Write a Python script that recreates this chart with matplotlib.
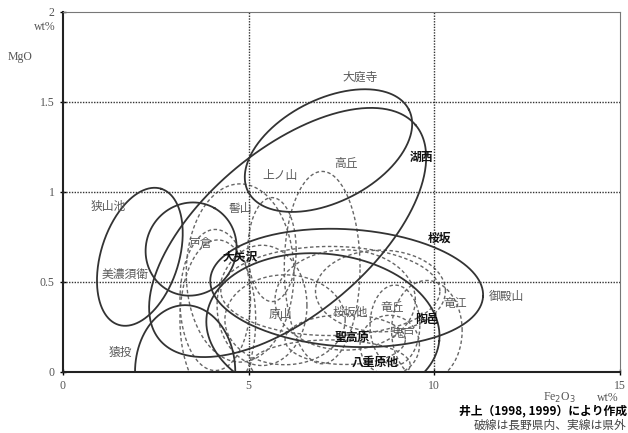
import numpy as np
import matplotlib.pyplot as plt

plt.rcParams['font.family'] = ['Liberation Serif', 'Noto Sans CJK JP']

# 実線 (県外) : 中心, 長径/短径 (x単位), 傾き(度)
solid_cx = [7.15, 6.05, 2.07, 3.45, 3.29, 7.64, 7.00]
solid_cy = [1.23, 0.775, 0.64, 0.683, 0.0, 0.467, 0.24]
solid_a = [2.43, 4.50, 1.92, 1.27, 1.35, 3.68, 3.15]
solid_b = [1.38, 2.22, 1.05, 1.21, 1.80, 1.58, 2.02]
solid_ang = [27, 40, 72.6, 60, 0, -3.6, -6]

# 破線 (長野県内)
dash_cx = [4.77, 6.98, 5.63, 4.17, 5.36, 5.98, 7.60, 8.94, 7.60, 8.80, 7.20, 8.55, 9.80, 7.20, 4.10]
dash_cy = [0.55, 0.58, 0.68, 0.29, 0.37, 0.29, 0.40, 0.26, 0.18, 0.15, 0.04, 0.45, 0.23, 0.45, 0.40]
dash_a = [1.45, 1.02, 0.65, 1.02, 1.21, 1.62, 1.89, 0.67, 1.62, 0.80, 2.15, 1.75, 0.95, 2.95, 0.95]
dash_b = [2.40, 2.59, 1.40, 2.15, 1.62, 1.21, 1.35, 1.08, 0.67, 0.80, 0.67, 1.10, 1.35, 1.20, 1.90]
dash_ang = [0, 0, 0, 0, 0, 0, 0, 0, 0, 0, 0, 0, 0, 0, 0]

labels = ['大庭寺', '高丘', '上ノ山', '湖西', '狭山池', '髻山', '戸倉', '大矢沢', '美濃須衛',
          '桜坂', '竜江', '御殿山', '原山', '桜坂他', '竜丘', '陶邑', '聖高原', '鬼戸', '八重原他', '猿投']
label_x = [8.0, 7.62, 5.84, 9.64, 1.21, 4.77, 3.69, 4.77, 1.67,
           10.13, 10.56, 11.93, 5.84, 7.73, 8.86, 9.80, 7.78, 9.16, 8.40, 1.54]
label_y = [1.64, 1.16, 1.09, 1.19, 0.917, 0.906, 0.717, 0.639, 0.544,
           0.744, 0.383, 0.417, 0.317, 0.333, 0.356, 0.289, 0.194, 0.217, 0.056, 0.111]
label_bold = ['湖西', '大矢沢', '桜坂', '陶邑', '聖高原', '八重原他']

fig = plt.figure(figsize=(6.28, 4.33), dpi=100)
ax = fig.add_axes([0.1003, 0.1409, 0.8869, 0.8314])
ax.set_xlim(0, 15)
ax.set_ylim(0, 2)

# 見た目の縦横比 (x 1単位 と y 1単位 のピクセル比)
scale = (0.8314 * 433 / 2) / (0.8869 * 628 / 15)


def ellipse_xy(cx, cy, a, b, ang):
    t = np.linspace(0, 2 * np.pi, 400)
    r = np.deg2rad(ang)
    u = a * np.cos(t)
    v = b * np.sin(t)
    x = cx + u * np.cos(r) - v * np.sin(r)
    y = cy + (u * np.sin(r) + v * np.cos(r)) / scale
    return x, y


for i in range(len(dash_cx)):
    x, y = ellipse_xy(dash_cx[i], dash_cy[i], dash_a[i], dash_b[i], dash_ang[i])
    ax.plot(x, y, color='#666666', lw=1.0, dashes=(2.5, 1.8))

for i in range(len(solid_cx)):
    x, y = ellipse_xy(solid_cx[i], solid_cy[i], solid_a[i], solid_b[i], solid_ang[i])
    ax.plot(x, y, color='#333333', lw=1.3)

for gx in [5, 10]:
    ax.axvline(gx, color='#333333', lw=1.0, ls=(0, (1, 1)))
for gy in [0.5, 1, 1.5]:
    ax.axhline(gy, color='#333333', lw=1.0, ls=(0, (1, 1)))

for i, t in enumerate(labels):
    bold = t in label_bold
    ax.text(label_x[i], label_y[i], t, ha='center', va='center', fontsize=8.5,
            color='#111111' if bold else '#5a5a5a',
            fontweight='bold' if bold else 'normal',
            family=['Noto Sans CJK JP'])

ax.set_xticks([0, 5, 10, 15])
ax.set_xticklabels(['0', '5', '10', '15'])
ax.set_yticks([0, 0.5, 1, 1.5, 2])
ax.set_yticklabels(['0', '0.5', '1', '1.5', '2'])
ax.tick_params(direction='inout', length=5, width=1, labelsize=8.5, labelcolor='#555555')
for s in ['left', 'bottom']:
    ax.spines[s].set_linewidth(1.5)
    ax.spines[s].set_color('#222222')
for s in ['top', 'right']:
    ax.spines[s].set_linewidth(0.8)
    ax.spines[s].set_color('#777777')

fig.text(0.088, 0.938, 'wt%', fontsize=8.5, color='#555555', ha='right', va='center')
fig.text(0.012, 0.868, 'MgO', fontsize=8.5, color='#555555', ha='left', va='center')
fig.text(0.865, 0.081, 'Fe$_2$O$_3$', fontsize=8.5, color='#555555', ha='left', va='center')
fig.text(0.985, 0.081, 'wt%', fontsize=8.5, color='#555555', ha='right', va='center')
fig.text(0.998, 0.051, '井上（1998, 1999）により作成', fontsize=8.5, fontweight='bold',
         ha='right', va='center', family=['Noto Sans CJK JP'])
fig.text(0.998, 0.018, '破線は長野県内、実線は県外', fontsize=8.5, color='#444444',
         ha='right', va='center', family=['Noto Sans CJK JP'])

fig.savefig('out.png', dpi=100)
